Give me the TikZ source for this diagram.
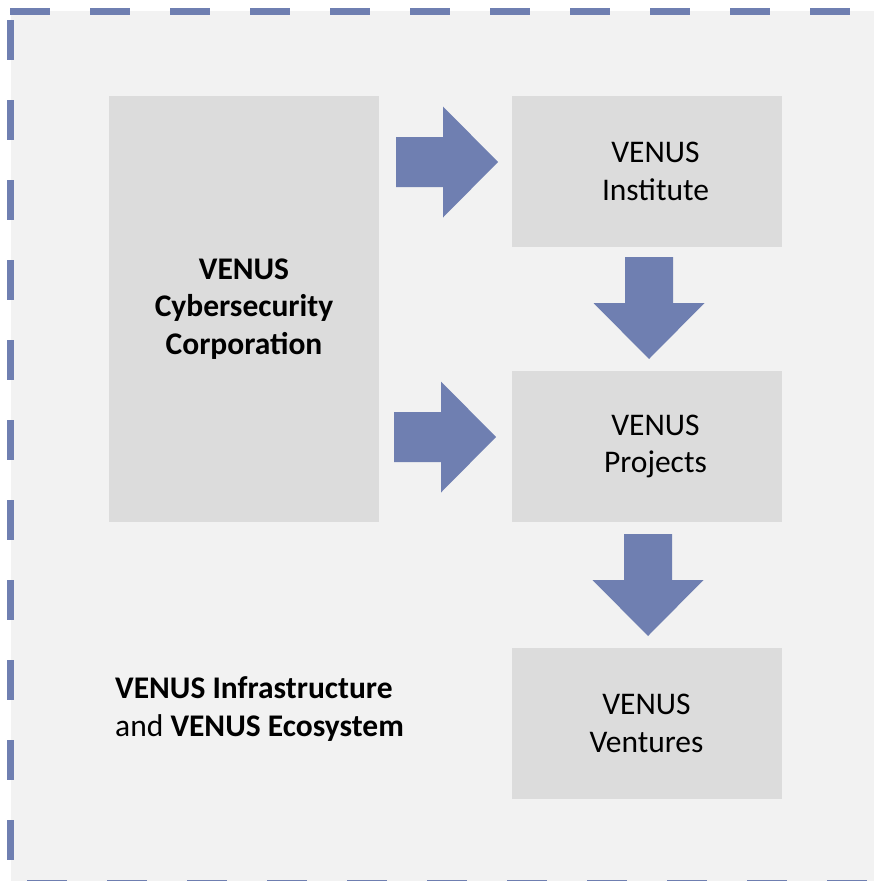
\documentclass[tikz,border=0pt]{standalone}
\usepackage{fontspec}
\setmainfont{Carlito}
\usetikzlibrary{positioning,calc}
\definecolor{venusblue}{RGB}{111,127,177}
\definecolor{panelgray}{RGB}{242,242,242}
\definecolor{boxgray}{RGB}{220,220,220}

\begin{document}
\begin{tikzpicture}[x=1pt, y=-1pt,
    unitbox/.style={rectangle, fill=boxgray, minimum width=270pt, minimum height=151pt, inner sep=0pt, outer sep=0pt},
    unittext/.style={align=center, inner sep=0pt, font=\fontsize{31.5}{37.8}\selectfont},
    frameline/.style={venusblue, line width=7pt, dash pattern=on 40pt off 40pt},
    pics/rarrow/.style={code={\fill[venusblue] (0,-25) -- (#1,-25) -- (#1,-55.5) -- (102,0) -- (#1,55.5) -- (#1,25) -- (0,25) -- cycle;}},
    pics/darrow/.style={code={\fill[venusblue] (-24,0) -- (-24,#1) -- (-55.5,#1) -- (0,102) -- (55.5,#1) -- (24,#1) -- (24,0) -- cycle;}}]
    \useasboundingbox (0,0) rectangle (874,881);
    % panel and dashed frame
    \fill[panelgray] (11,11) rectangle (890,895);
    \draw[frameline] (10,11.5) -- (874,11.5);
    \draw[frameline] (10.5,20) -- (10.5,881);
    \draw[frameline] (27,883) -- (874,883);

    % boxes
    \node [unitbox, minimum height=426pt] (corp) at (244,309) {};
    \node [unittext, font=\bfseries\fontsize{31.5}{37.8}\selectfont] (corplabel) at (corp) {VENUS\\Cybersecurity\\Corporation};
    \node [unitbox] (inst) at (646.5,171.5) {};
    \node [unittext, xshift=9pt] (instlabel) at (inst) {VENUS\\Institute};
    \node [unitbox] (proj) at (646.5,446.5) {};
    \node [unittext, xshift=9pt] (projlabel) at (proj) {VENUS\\Projects};
    \node [unitbox] (vent) at (646.5,723.5) {};
    \node [unittext] (ventlabel) at (vent) {VENUS\\Ventures};

    \node [unittext, align=left, anchor=west] (infra) at (115,709) {\textbf{VENUS Infrastructure}\\and \textbf{VENUS Ecosystem}};

    % block arrows
    \pic at (396,162) {rarrow=47};
    \pic at (394,437) {rarrow=47};
    \pic at (649,257) {darrow=46};
    \pic at (648,534) {darrow=46};
\end{tikzpicture}
\end{document}
